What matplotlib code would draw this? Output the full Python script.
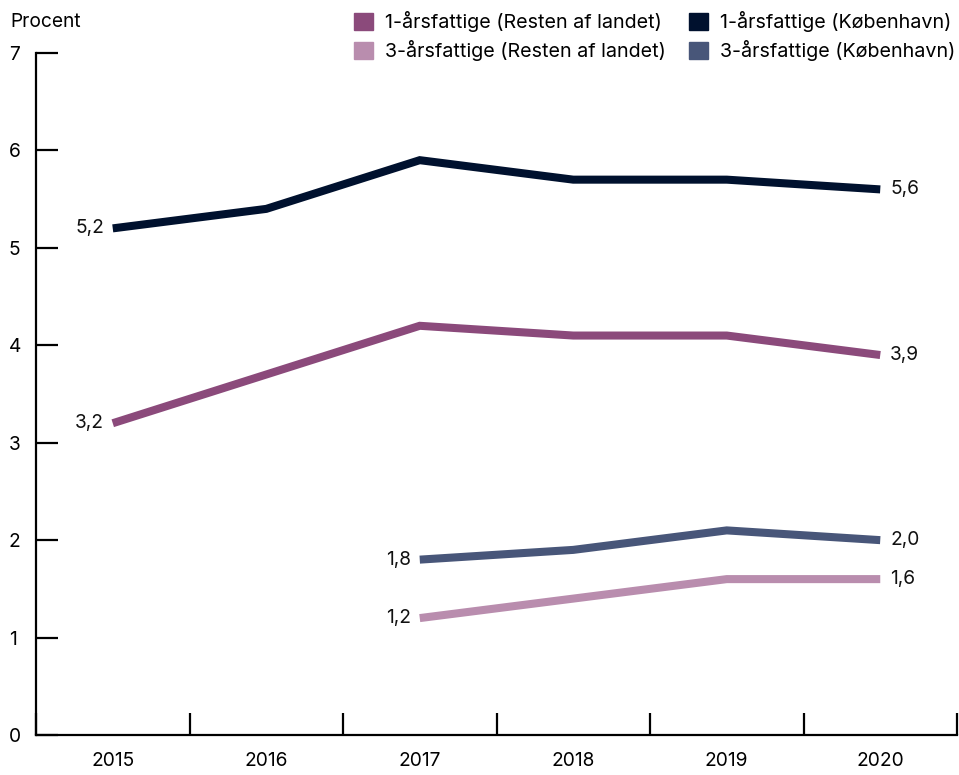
import matplotlib
matplotlib.use("Agg")
import matplotlib.pyplot as plt
from matplotlib.patches import Patch
import matplotlib.transforms as mtransforms
import numpy as np

plt.rcParams['font.family'] = ['Inter', 'DejaVu Sans']

years = ["2015", "2016", "2017", "2018", "2019", "2020"]
kbh_1 = [5.2, 5.4, 5.9, 5.7, 5.7, 5.6]
rest_1 = [3.2, 3.7, 4.2, 4.1, 4.1, 3.9]
kbh_3 = [None, None, 1.8, 1.9, 2.1, 2.0]
rest_3 = [None, None, 1.2, 1.4, 1.6, 1.6]

c_kbh1 = "#00112e"
c_rest1 = "#8b4a7b"
c_kbh3 = "#485679"
c_rest3 = "#b98dae"

fig = plt.figure(figsize=(9.59, 7.75), dpi=100)
ax = fig.add_axes([36/959, 1-735/775, (957-36)/959, (735-53)/775])

fs = 13.8
fs_leg = 14.2
for vals, col in [(kbh_1, c_kbh1), (rest_1, c_rest1), (kbh_3, c_kbh3), (rest_3, c_rest3)]:
    idx = [i for i, v in enumerate(vals) if v is not None]
    yv = [vals[i] for i in idx]
    ax.plot(idx, yv, color=col, lw=5.8, solid_capstyle='butt', solid_joinstyle='miter', zorder=3)
    ax.text(idx[0] - 0.055, yv[0], f"{yv[0]:.1f}".replace('.', ','), ha='right', va='center', fontsize=fs, color='#111111')
    ax.text(idx[-1] + 0.065, yv[-1], f"{yv[-1]:.1f}".replace('.', ','), ha='left', va='center', fontsize=fs, color='#111111')

ax.set_xlim(-0.5, len(years) - 0.5)
ax.set_ylim(0, 7)
ax.set_yticks(range(0, 8))
ax.set_yticklabels([str(v) for v in range(0, 8)], fontsize=fs)
ax.tick_params(axis='y', direction='in', length=16, width=1.6, pad=0, color='black')

ax.set_xticks(np.arange(-0.5, len(years), 1.0))
ax.set_xticklabels([""] * (len(years) + 1))
ax.set_xticks(range(len(years)), minor=True)
ax.set_xticklabels(years, minor=True, fontsize=fs)
ax.tick_params(axis='x', which='major', direction='in', length=16, width=1.6, color='black')
ax.tick_params(axis='x', which='minor', length=0, pad=12)

offset = mtransforms.ScaledTranslation(-27/100, 0, fig.dpi_scale_trans)
for lab in ax.get_yticklabels():
    lab.set_horizontalalignment('left')
    lab.set_transform(lab.get_transform() + offset)

for s in ['top', 'right']:
    ax.spines[s].set_visible(False)
ax.spines['left'].set_linewidth(1.6)
ax.spines['bottom'].set_linewidth(1.6)

fig.text(10/959, 1-22/775, "Procent", fontsize=fs, ha='left', va='center')

handles = [Patch(color=c_rest1), Patch(color=c_rest3), Patch(color=c_kbh1), Patch(color=c_kbh3)]
labels = ["1-årsfattige (Resten af landet)", "3-årsfattige (Resten af landet)",
          "1-årsfattige (København)", "3-årsfattige (København)"]
leg = fig.legend(handles, labels, ncol=2, loc='upper right', bbox_to_anchor=(955/959, 1 - 11/775),
                 frameon=False, fontsize=fs_leg, handlelength=0.95, handleheight=0.95,
                 handletextpad=0.6, columnspacing=1.2, labelspacing=0.42, borderpad=0, borderaxespad=0)

fig.savefig("out.png", dpi=100)
